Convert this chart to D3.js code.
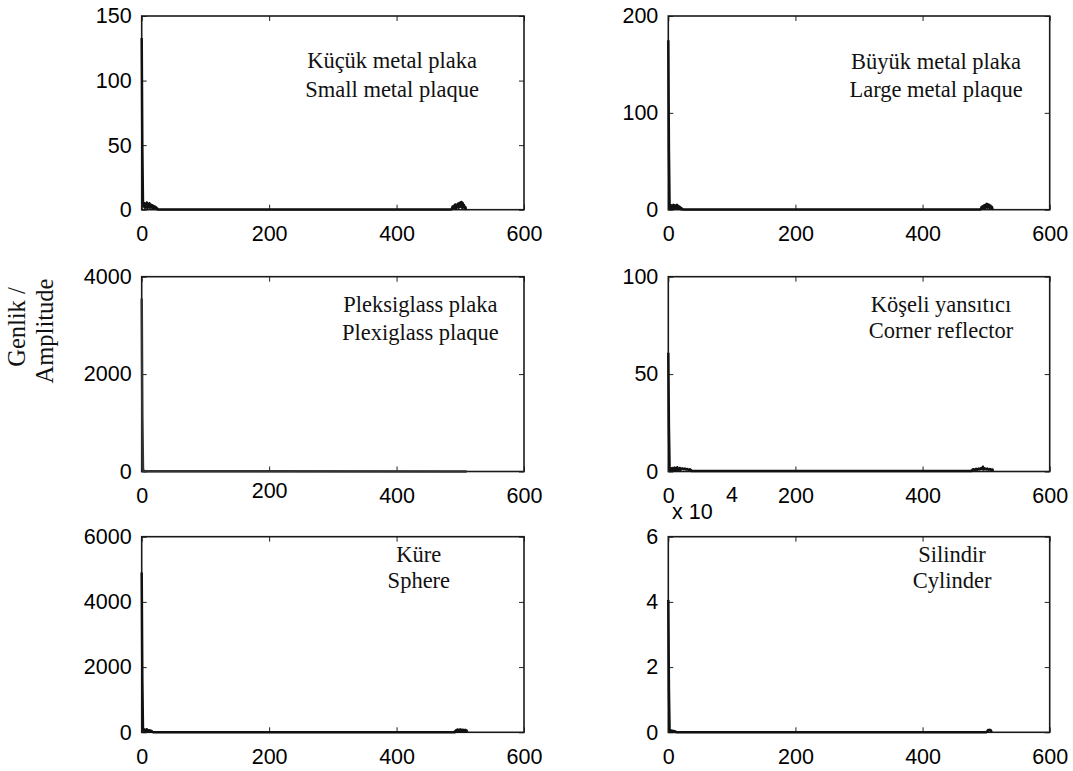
<!DOCTYPE html>
<html>
<head>
<meta charset="utf-8">
<script src="https://cdn.jsdelivr.net/npm/d3@7"></script>
<style>
  body { margin: 0; background: #fff; }
  svg { display: block; }
</style>
</head>
<body>
<main></main>
<script>
// spectra: [bin, amplitude]
const smallPlate = [[0,133],[1,48],[2,6],[3,2.5],[4,5],[5,1.5],[6,4.5],[7,2],[8,5.5],[9,1],[10,4],[11,2.5],[12,5],[13,1.5],[14,4],[15,2],[16,3.5],[17,1],[18,3],[19,1.5],[20,2.5],[21,0.8],[22,2],[23,0.6],[24,1.2],[25,0.3],[26,0.2],
  [486,0.2],[487,1],[488,2.5],[489,1],[490,3],[491,1.5],[492,4],[493,1],[494,3.5],[495,2],[496,4.5],[497,1.5],[498,5],[499,2],[500,5.5],[501,2.5],[502,6],[503,1.5],[504,5],[505,2],[506,3.5],[507,1],[508,2],[509,0.5],[510,0.3]]
const largePlate = [[0,175],[1,60],[2,5],[3,1.5],[4,4.5],[5,1],[6,4],[7,2],[8,5],[9,1],[10,4.5],[11,1.5],[12,4],[13,2],[14,5],[15,1],[16,3.5],[17,1.5],[18,3],[19,0.8],[20,2],[21,0.5],[22,1],[23,0.2],
  [491,0.2],[492,1.5],[493,3],[494,1],[495,3.5],[496,2],[497,4.5],[498,1.5],[499,5],[500,2.5],[501,6],[502,2],[503,5.5],[504,2.5],[505,5],[506,1.5],[507,4],[508,2],[509,3],[510,1],[511,0.5]]
const plexiPlate = [[0,3550],[1,1100],[2,60],[3,15],[4,8],[5,4],[6,3],[510,2]]
const cornerRefl = [[0,61],[1,22],[2,2.5],[3,0.8],[4,1.5],[5,0.6],[6,1.8],[7,0.7],[8,1.5],[9,0.9],[10,2],[11,0.6],[12,1.6],[13,0.8],[14,2.2],[15,0.7],[16,1.5],[17,1],[18,1.8],[19,0.6],[20,1.4],[22,1.6],[24,1.2],[26,1.5],[28,1],[30,1.3],[32,0.8],[34,1.1],[36,0.6],[37,0.2],
  [477,0.2],[478,0.8],[480,1.2],[482,0.7],[484,1.4],[486,0.8],[488,1.5],[490,1],[492,1.8],[494,1.2],[495,2.4],[496,1],[498,1.6],[500,1.1],[502,1.5],[504,0.9],[506,1.3],[508,0.8],[510,1],[511,0.3]]
const sphere = [[0,4900],[1,1600],[2,120],[3,40],[4,90],[5,30],[6,80],[7,40],[8,95],[9,30],[10,70],[11,25],[12,60],[13,20],[14,55],[15,15],[16,35],[17,10],[18,5],
  [491,5],[492,40],[493,15],[494,70],[495,25],[496,85],[497,20],[498,60],[499,30],[500,90],[501,25],[502,70],[503,35],[504,80],[505,20],[506,60],[507,30],[508,75],[509,20],[510,50],[511,10]]
const cylinder = [[0,40600],[1,13000],[2,900],[3,300],[4,600],[5,250],[6,500],[7,200],[8,400],[9,150],[10,350],[11,100],[12,200],[13,50],
  [500,50],[502,300],[503,700],[504,500],[505,800],[506,600],[507,700],[508,300],[509,50]]

const seriesList = [smallPlate, largePlate, plexiPlate, cornerRefl, sphere, cylinder]
const yMaxes = [150, 200, 4000, 100, 6000, 60000]
const yTickSets = [[0, 50, 100, 150], [0, 100, 200], [0, 2000, 4000], [0, 50, 100], [0, 2000, 4000, 6000], [0, 20000, 40000, 60000]]
const xTicks = [0, 200, 400, 600]
const labelsTr = ['Küçük metal plaka', 'Büyük metal plaka', 'Pleksiglass plaka', 'Köşeli yansıtıcı', 'Küre', 'Silindir']
const labelsEn = ['Small metal plaque', 'Large metal plaque', 'Plexiglass plaque', 'Corner reflector', 'Sphere', 'Cylinder']

// layout of the 3x2 grid
const cols = [[141.7, 524], [668.3, 1049.7]]
const rows = [[16, 209.7], [276.7, 471.5], [536.7, 732.3]]
const labelPos = [[0.655, 52, 81], [0.702, 53, 81], [0.729, 35.6, 63.3], [0.715, 35.6, 61.5], [0.725, 25, 51.6], [0.744, 25, 51.6]]

const svg = d3.select('main')
  .append('svg')
  .attr('width', 1073)
  .attr('height', 771)

seriesList.forEach(function (data, i) {
  const c = cols[i % 2]
  const r = rows[Math.floor(i / 2)]
  const w = c[1] - c[0]
  const h = r[1] - r[0]
  const g = svg.append('g')
    .attr('transform', 'translate(' + c[0] + ',' + r[0] + ')')

  const x = d3.scaleLinear().domain([0, 600]).range([0, w])
  const y = d3.scaleLinear().domain([0, yMaxes[i]]).range([h, 0])
  const fmt = i === 5 ? (d => d / 1e4) : (d => d)

  // bottom axis with labels
  const gx = g.append('g')
    .attr('transform', 'translate(0,' + h + ')')
    .call(d3.axisBottom(x).tickValues(xTicks).tickSize(-5).tickPadding(16.5).tickSizeOuter(0))
  // odd raised label in plexiglass panel
  if (i === 2) gx.selectAll('.tick text').filter(d => d === 200).attr('y', 11.5)
  g.append('g')
    .call(d3.axisTop(x).tickValues(xTicks).tickSize(-5).tickFormat('').tickSizeOuter(0))
  g.append('g')
    .call(d3.axisLeft(y).tickValues(yTickSets[i]).tickSize(-5).tickPadding(10).tickFormat(fmt).tickSizeOuter(0))
  g.append('g')
    .attr('transform', 'translate(' + w + ',0)')
    .call(d3.axisRight(y).tickValues(yTickSets[i]).tickSize(-5).tickFormat('').tickSizeOuter(0))

  g.selectAll('.domain').remove()
  g.selectAll('.tick line').attr('stroke', '#222').attr('stroke-width', 1)
  g.selectAll('.tick text')
    .style('font-family', '"Liberation Sans", Arial, sans-serif')
    .style('font-size', '21.5px')
    .attr('fill', '#000')

  // frame
  g.append('rect')
    .attr('width', w)
    .attr('height', h)
    .attr('fill', 'none')
    .attr('stroke', '#1a1a1a')
    .attr('stroke-width', 1.6)

  // spectrum
  g.append('path')
    .datum(data)
    .attr('fill', 'none')
    .attr('stroke', i === 2 ? '#333' : '#111')
    .attr('stroke-width', 2.5)
    .attr('stroke-linejoin', 'round')
    .attr('d', d3.line().x(d => x(d[0])).y(d => y(d[1])))

  // caption
  const lp = labelPos[i]
  const cap = g.append('g')
    .style('font-family', '"Liberation Serif", "Times New Roman", serif')
    .style('font-size', '22.5px')
    .attr('text-anchor', 'middle')
    .attr('fill', '#111')
  cap.append('text').attr('x', lp[0] * w).attr('y', lp[1]).text(labelsTr[i])
  cap.append('text').attr('x', lp[0] * w).attr('y', lp[2]).text(labelsEn[i])
})

// exponent for the cylinder panel
const expo = svg.append('text')
  .style('font-family', '"Liberation Sans", Arial, sans-serif')
  .style('font-size', '21.5px')
  .attr('fill', '#000')
expo.append('tspan').attr('x', 672).attr('y', 518.5).text('x 10')
expo.append('tspan').attr('x', 726).attr('y', 501.5).text('4')

// shared y label
const ylab = svg.append('g')
  .style('font-family', '"Liberation Serif", "Times New Roman", serif')
  .style('font-size', '24.5px')
  .attr('text-anchor', 'middle')
  .attr('fill', '#111')
ylab.append('text')
  .attr('transform', 'translate(25,327) rotate(-90)')
  .text('Genlik /')
ylab.append('text')
  .attr('transform', 'translate(53,331) rotate(-90)')
  .text('Amplitude')
</script>
</body>
</html>
